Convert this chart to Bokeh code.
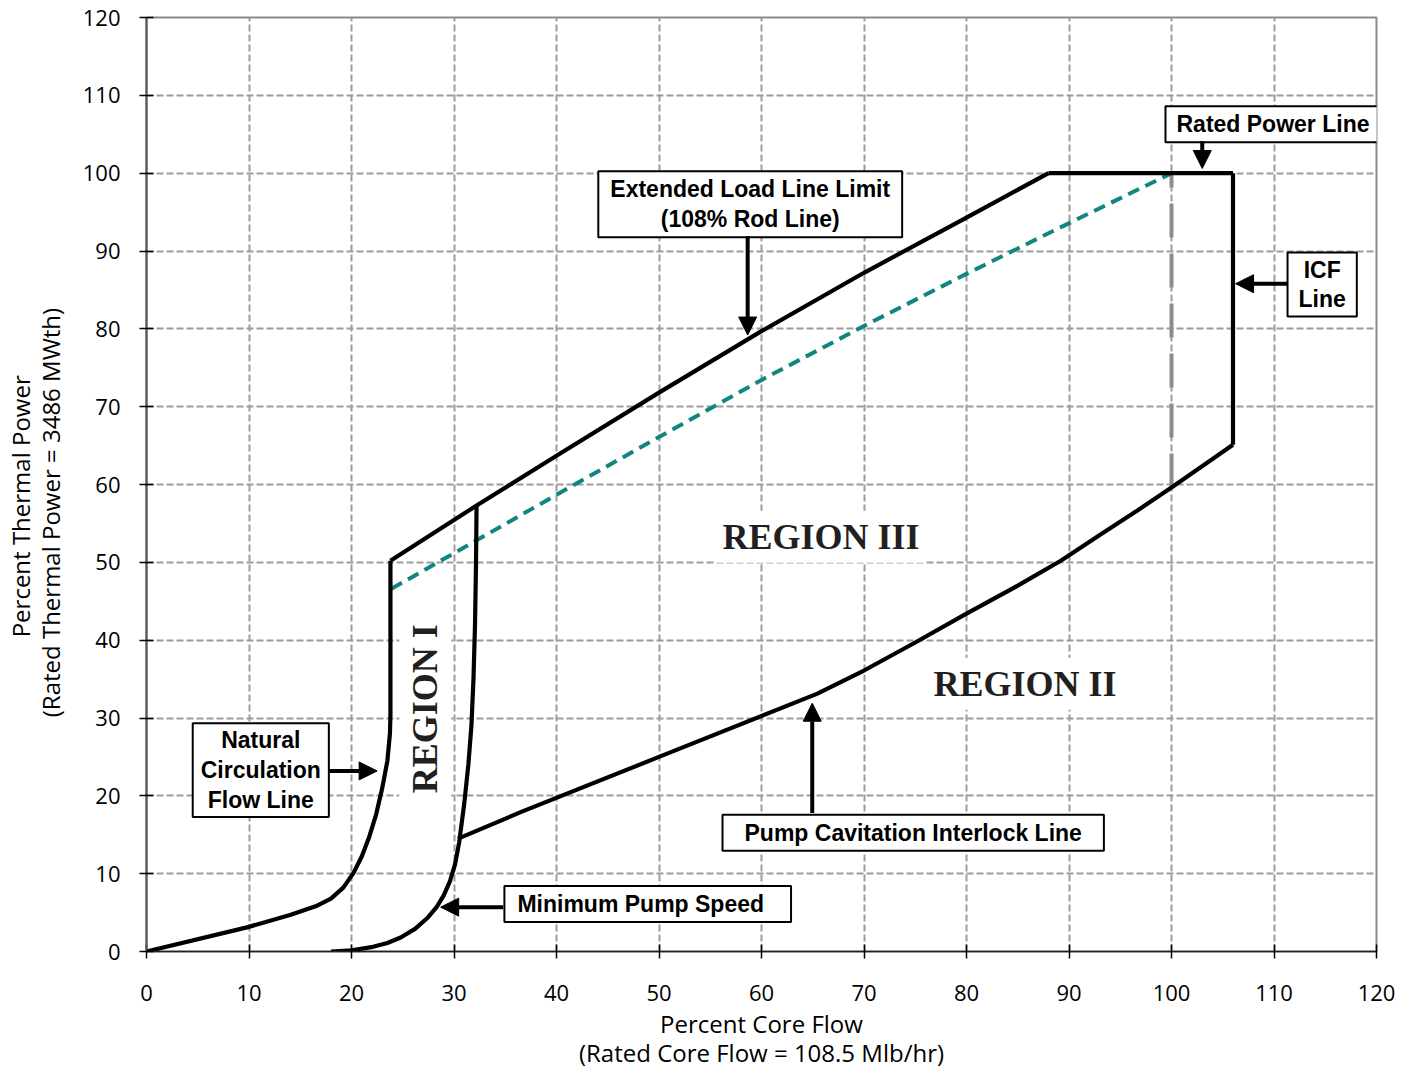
import math
from bokeh.plotting import figure
from bokeh.models import Range1d, FixedTicker, Label, Arrow, NormalHead
from bokeh.embed import file_html
from bokeh.resources import INLINE

# ---- data (percent core flow, percent thermal power) ----
nat_circ_x = [0, 9.8, 14.0, 16.5, 18.0, 19.2, 20.2, 21.0, 21.7, 22.4, 23.0, 23.5, 23.75, 23.8, 23.8]
nat_circ_y = [0, 3.1, 4.7, 5.8, 6.8, 8.2, 10.1, 12.2, 14.6, 17.6, 21.0, 24.5, 28.0, 30.5, 50.2]

rod_line_x = [23.8, 32.2, 40, 50, 60, 70, 80, 88]
rod_line_y = [50.2, 57.3, 63.7, 71.8, 79.7, 87.2, 94.3, 100]

rated_power_x = [88, 106]
rated_power_y = [100, 100]

icf_x = [106, 106]
icf_y = [100, 65.1]

cavitation_x = [30.4, 36.5, 50, 65.4, 70, 75, 80, 85, 89.2, 93, 96.6, 100, 106]
cavitation_y = [14.5, 17.9, 25.0, 33.1, 36.1, 39.7, 43.4, 47.0, 50.2, 53.5, 56.6, 59.6, 65.1]

min_pump_x = [18.0, 20.0, 22.1, 23.5, 24.8, 26.2, 27.4, 28.3, 29.0, 29.6, 30.1, 30.5,
              31.0, 31.4, 31.7, 31.9, 32.05, 32.15, 32.2]
min_pump_y = [0.0, 0.15, 0.6, 1.1, 1.8, 2.9, 4.3, 5.7, 7.2, 9.0, 11.2, 14.0,
              19.0, 24.0, 29.0, 35.0, 42.0, 50.0, 57.3]

mellla_x = [23.9, 35.9, 41.9, 50.0, 60.1, 69.9, 79.9, 88.5, 100]
mellla_y = [46.6, 55.6, 60.1, 66.1, 73.5, 80.3, 87.0, 92.6, 100]

flow100_x = [100, 100]
flow100_y = [59.6, 100]

ticks = list(range(0, 121, 10))

# annotation texts: (text, x, y, (left, right, top, bottom) padding)
boxes = [
    ("Extended Load Line Limit\n(108% Rod Line)", 58.9, 96.0, (12, 12, 5, 5)),
    ("Rated Power Line", 109.9, 106.3, (11, 11, 5, 5)),
    ("ICF\nLine", 114.7, 85.7, (11, 11, 4, 4)),
    ("Natural\nCirculation\nFlow Line", 11.15, 23.3, (8, 8, 4, 4)),
    ("Minimum Pump Speed", 48.9, 6.1, (13, 27, 5, 5)),
    ("Pump Cavitation Interlock Line", 74.8, 15.25, (22, 22, 5, 5)),
]
# arrows: (x_start, y_start, x_end, y_end)
arrows = [
    (58.65, 91.9, 58.65, 79.2),
    (103.0, 104.1, 103.0, 100.6),
    (111.3, 85.8, 106.25, 85.8),
    (17.8, 23.2, 22.5, 23.2),
    (34.8, 5.7, 28.7, 5.7),
    (64.95, 17.8, 64.95, 31.9),
]
regions = [
    ("REGION III", 65.8, 53.3, 0.0),
    ("REGION II", 85.7, 34.4, 0.0),
    ("REGION I", 27.2, 31.2, math.pi / 2),
]

NB = "\u00a0"
p = figure(width=1405, height=1072, output_backend="svg", toolbar_location=None,
           x_range=Range1d(0, 120), y_range=Range1d(0, 120),
           min_border_left=146, min_border_right=29, min_border_top=17, min_border_bottom=121)
p.background_fill_color = "white"
p.border_fill_color = "white"
p.outline_line_color = "#8a8a8a"
p.outline_line_width = 2

for ax in (p.xaxis, p.yaxis):
    ax.ticker = FixedTicker(ticks=ticks)
    ax.major_label_text_font = "Open Sans"
    ax.major_label_text_font_size = "22px"
    ax.major_label_text_color = "black"
    ax.axis_label_text_font = "Open Sans"
    ax.axis_label_text_font_size = "24px"
    ax.axis_label_text_font_style = "normal"
    ax.axis_label_text_color = "black"
    ax.axis_label_text_line_height = 0.9
    ax.minor_tick_line_color = None
    ax.major_tick_in = 7
    ax.major_tick_out = 7
    ax.major_tick_line_color = "black"
    ax.major_tick_line_width = 1.5

p.xaxis.axis_label = "Percent Core Flow\n(Rated Core Flow = 108.5 Mlb/hr)"
p.yaxis.axis_label = ("Percent Thermal Power" + NB * 7 + "\n(Rated Thermal Power = 3486 MWth)" + NB * 9)
p.xaxis.axis_line_color = "#222222"
p.xaxis.axis_line_width = 1.5
p.yaxis.axis_line_color = "#555555"
p.yaxis.axis_line_width = 2
p.xaxis.major_label_standoff = 26
p.yaxis.major_label_standoff = 19
p.xaxis.axis_label_standoff = 3
p.yaxis.axis_label_standoff = 13

for g in (p.xgrid, p.ygrid):
    g.grid_line_color = "#9c9c9c"
    g.grid_line_width = 2
    g.grid_line_dash = "7 3"

# lines
p.line(flow100_x, flow100_y, line_color="#8c8c8c", line_width=4, line_dash="34 16")
p.line(mellla_x, mellla_y, line_color="#11857f", line_width=4, line_dash="12 7")
for xs, ys in [(nat_circ_x, nat_circ_y), (rod_line_x, rod_line_y), (rated_power_x, rated_power_y),
               (icf_x, icf_y), (cavitation_x, cavitation_y), (min_pump_x, min_pump_y)]:
    p.line(xs, ys, line_color="black", line_width=4.2, line_join="round")

for text, x, y, ang in regions:
    p.add_layout(Label(x=x, y=y, text=text, angle=ang, text_align="center", text_baseline="middle",
                       text_font="Liberation Serif", text_font_style="bold", text_font_size="36px",
                       text_color="#231f20", background_fill_color="white", padding=6))

for text, x, y, (pl, pr, pt, pb) in boxes:
    p.add_layout(Label(x=x, y=y, text=text, text_align="center", text_baseline="middle",
                       text_font="Liberation Sans", text_font_style="bold", text_font_size="23px",
                       text_color="black", text_line_height=1.15,
                       background_fill_color="white", border_line_color="black", border_line_width=2,
                       padding=dict(left=pl, right=pr, top=pt, bottom=pb)))

for xs, ys, xe, ye in arrows:
    p.add_layout(Arrow(x_start=xs, y_start=ys, x_end=xe, y_end=ye, line_width=4, line_color="black",
                       end=NormalHead(size=18, fill_color="black", line_color="black", line_width=1)))

open("out.html", "w").write(file_html(p, INLINE))
